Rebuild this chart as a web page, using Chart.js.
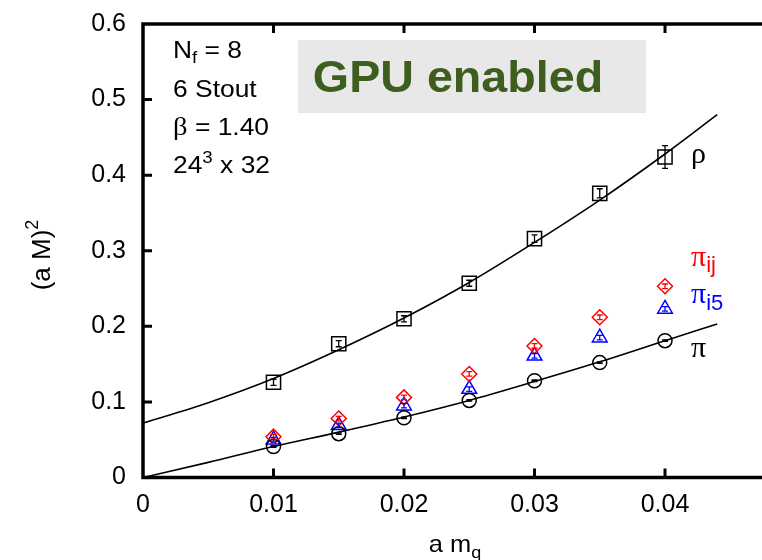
<!DOCTYPE html>
<html>
<head>
<meta charset="utf-8">
<script src="https://cdn.jsdelivr.net/npm/chart.js@4.4.1/dist/chart.umd.min.js"></script>
<style>
  html, body { margin: 0; padding: 0; background: #fff; overflow: hidden; }
  #wrap { width: 810px; height: 560px; }
</style>
</head>
<body>
<div id="wrap"><canvas id="massChart" width="810" height="560"></canvas></div>
<script>
// bare quark masses a m_q
const mq = [0.01, 0.015, 0.02, 0.025, 0.03, 0.035, 0.04];

// (a M)^2 per channel with errors
const rho = [0.126, 0.177, 0.210, 0.257, 0.316, 0.376, 0.424];
const rhoErr = [0.004, 0.004, 0.004, 0.004, 0.005, 0.006, 0.015];
const pi = [0.041, 0.058, 0.079, 0.102, 0.128, 0.152, 0.181];
const piErr = [0.001, 0.001, 0.001, 0.001, 0.001, 0.001, 0.001];
const piIj = [0.054, 0.078, 0.106, 0.137, 0.174, 0.212, 0.253];
const piIjErr = [0.003, 0.003, 0.003, 0.003, 0.003, 0.003, 0.003];
const piI5 = [0.050, 0.069, 0.095, 0.117, 0.161, 0.185, 0.223];
const piI5Err = [0.003, 0.003, 0.003, 0.003, 0.003, 0.003, 0.003];

// fit curves
const fitX = [0, 0.005, 0.01, 0.015, 0.02, 0.025, 0.03, 0.035, 0.04, 0.044];
const rhoFit = [0.072, 0.099, 0.131, 0.169, 0.211, 0.258, 0.311, 0.367, 0.428, 0.480];
const piFit = [0, 0.020, 0.041, 0.060, 0.080, 0.102, 0.127, 0.153, 0.181, 0.203];

// axis ticks
const xTicks = [0, 0.01, 0.02, 0.03, 0.04, 0.05];
const yTicks = [0, 0.1, 0.2, 0.3, 0.4, 0.5, 0.6];

const SANS = '"Liberation Sans", Arial, Helvetica, sans-serif';
const SERIF = '"Liberation Serif", "Times New Roman", serif';

const pts = (xs, ys) => xs.map((x, i) => ({ x, y: ys[i] }));

// draws a run of text pieces (for sub/superscripts)
function richText(ctx, x, y, runs, opts = {}) {
    ctx.save();
    ctx.translate(x, y);
    if (opts.rotate) ctx.rotate(opts.rotate);
    ctx.scale(opts.stretch || 1, 1);
    ctx.textBaseline = 'alphabetic';
    ctx.textAlign = 'left';
    let total = 0;
    runs.forEach(r => {
        ctx.font = `${r.weight || 'normal'} ${r.size}px ${r.family || SANS}`;
        r.w = ctx.measureText(r.t).width;
        total += r.w;
    });
    let cx = opts.align === 'center' ? -total / 2 : 0;
    runs.forEach(r => {
        ctx.font = `${r.weight || 'normal'} ${r.size}px ${r.family || SANS}`;
        ctx.fillStyle = r.color || opts.color || '#000';
        ctx.fillText(r.t, cx, r.dy || 0);
        cx += r.w;
    });
    ctx.restore();
}

const errorBars = {
    id: 'errorBars',
    afterDatasetsDraw(chart) {
        const ctx = chart.ctx;
        const yScale = chart.scales.y;
        chart.data.datasets.forEach((ds, di) => {
            if (!ds.errors) return;
            const meta = chart.getDatasetMeta(di);
            ctx.save();
            ctx.strokeStyle = ds.borderColor;
            ctx.lineWidth = 1.3;
            meta.data.forEach((el, i) => {
                const v = ds.data[i].y, e = ds.errors[i];
                const y1 = yScale.getPixelForValue(v - e);
                const y2 = yScale.getPixelForValue(v + e);
                ctx.beginPath();
                ctx.moveTo(el.x, y1); ctx.lineTo(el.x, y2);
                ctx.moveTo(el.x - 3, y1); ctx.lineTo(el.x + 3, y1);
                ctx.moveTo(el.x - 3, y2); ctx.lineTo(el.x + 3, y2);
                ctx.stroke();
            });
            ctx.restore();
        });
    }
};

const frame = {
    id: 'frame',
    afterDraw(chart) {
        const { ctx, chartArea: a, scales } = chart;
        ctx.save();
        ctx.strokeStyle = '#000';
        ctx.lineWidth = 3;
        // inward tick marks on all sides
        xTicks.slice(1, -1).forEach(v => {
            const px = scales.x.getPixelForValue(v);
            ctx.beginPath();
            ctx.moveTo(px, a.bottom); ctx.lineTo(px, a.bottom - 9);
            ctx.moveTo(px, a.top); ctx.lineTo(px, a.top + 9);
            ctx.stroke();
        });
        yTicks.slice(1, -1).forEach(v => {
            const py = scales.y.getPixelForValue(v);
            ctx.beginPath();
            ctx.moveTo(a.left, py); ctx.lineTo(a.left + 9, py);
            ctx.moveTo(a.right, py); ctx.lineTo(a.right - 9, py);
            ctx.stroke();
        });
        ctx.lineWidth = 3.5;
        ctx.strokeRect(a.left, a.top, a.right - a.left, a.bottom - a.top);
        ctx.restore();

        // axis titles
        richText(ctx, 455, 552, [
            { t: 'a m', size: 24 },
            { t: 'q', size: 17, dy: 6 }
        ], { align: 'center', stretch: 1.06 });
        richText(ctx, 50, 255, [
            { t: '(a M)', size: 26 },
            { t: '2', size: 18, dy: -12 }
        ], { align: 'center', rotate: -Math.PI / 2 });

        // run parameters
        const st = 1.1;
        richText(ctx, 173, 58, [
            { t: 'N', size: 24 }, { t: 'f', size: 17, dy: 5 }, { t: ' = 8', size: 24 }
        ], { stretch: st });
        richText(ctx, 173, 97, [{ t: '6 Stout', size: 24 }], { stretch: st });
        richText(ctx, 173, 135, [
            { t: 'β', size: 26, family: SERIF }, { t: ' = 1.40', size: 24 }
        ], { stretch: st });
        richText(ctx, 173, 173, [
            { t: '24', size: 24 }, { t: '3', size: 17, dy: -10 }, { t: ' x 32', size: 24 }
        ], { stretch: st });

        // badge
        ctx.fillStyle = '#e8e8e8';
        ctx.fillRect(298, 40, 348, 73);
        richText(ctx, 458, 92, [
            { t: 'GPU enabled', size: 44, weight: 'bold' }
        ], { align: 'center', color: '#3d5e1f', stretch: 1.06 });

        // channel labels
        richText(ctx, 691, 163, [{ t: 'ρ', size: 30, family: SERIF }]);
        richText(ctx, 691, 266, [
            { t: 'π', size: 30, family: SERIF }, { t: 'ij', size: 22, dy: 6 }
        ], { color: '#ff0000' });
        richText(ctx, 691, 303, [
            { t: 'π', size: 30, family: SERIF }, { t: 'i5', size: 22, dy: 7 }
        ], { color: '#0000ff' });
        richText(ctx, 691, 357, [{ t: 'π', size: 30, family: SERIF }]);
    }
};

function markerSet(label, ys, errs, style, radius, color) {
    return {
        label,
        data: pts(mq, ys),
        errors: errs,
        showLine: false,
        pointStyle: style,
        pointRadius: radius,
        pointBorderWidth: 1.5,
        borderColor: color,
        pointBorderColor: color,
        pointBackgroundColor: 'rgba(0,0,0,0)'
    };
}

function fitSet(label, ys) {
    return {
        label,
        data: pts(fitX, ys),
        showLine: true,
        borderColor: '#000',
        borderWidth: 1.6,
        pointRadius: 0,
        cubicInterpolationMode: 'monotone'
    };
}

new Chart(document.getElementById('massChart'), {
    type: 'scatter',
    data: {
        datasets: [
            markerSet('rho', rho, rhoErr, 'rect', 10, '#000'),
            markerSet('pi', pi, piErr, 'circle', 7, '#000'),
            markerSet('pi_ij', piIj, piIjErr, 'rectRot', 7.5, '#ff0000'),
            markerSet('pi_i5', piI5, piI5Err, 'triangle', 8.5, '#0000ff'),
            fitSet('rho fit', rhoFit),
            fitSet('pi fit', piFit)
        ]
    },
    options: {
        responsive: false,
        animation: false,
        devicePixelRatio: 1,
        layout: { padding: { top: 24, right: 14.5, left: 0, bottom: 0 } },
        plugins: { legend: { display: false }, tooltip: { enabled: false } },
        scales: {
            x: {
                type: 'linear',
                min: 0,
                max: 0.05,
                afterBuildTicks: s => { s.ticks = xTicks.map(v => ({ value: v })); },
                afterFit: s => { s.height = 82.5; s.paddingLeft = 0; s.paddingRight = 0; },
                grid: { display: false, drawTicks: false },
                border: { display: false },
                ticks: {
                    autoSkip: false,
                    maxRotation: 0,
                    padding: 13,
                    color: '#000',
                    font: { family: SANS, size: 25 },
                    callback: v => v > 0.045 ? '' : (v === 0 ? '0' : v.toFixed(2))
                }
            },
            y: {
                min: 0,
                max: 0.6,
                afterBuildTicks: s => { s.ticks = yTicks.map(v => ({ value: v })); },
                afterFit: s => { s.width = 143; s.paddingTop = 0; s.paddingBottom = 0; },
                grid: { display: false, drawTicks: false },
                border: { display: false },
                ticks: {
                    autoSkip: false,
                    padding: 17,
                    color: '#000',
                    font: { family: SANS, size: 25 },
                    callback: v => v === 0 ? '0' : v.toFixed(1)
                }
            }
        }
    },
    plugins: [errorBars, frame]
});
</script>
</body>
</html>
